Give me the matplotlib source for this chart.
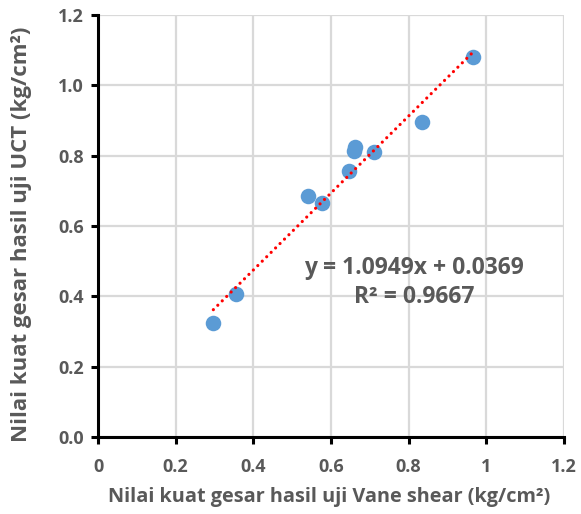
import matplotlib

matplotlib.use("Agg")
import matplotlib.pyplot as plt
import numpy as np

# data
vane = [0.297, 0.356, 0.540, 0.578, 0.647, 0.660, 0.662, 0.711, 0.834, 0.965]
uct = [0.323, 0.406, 0.684, 0.666, 0.757, 0.812, 0.826, 0.811, 0.897, 1.080]
slope, intercept = 1.0949, 0.0369
r2 = 0.9667

_INK = "#595959"
_DOT = "#5B9BD5"

plt.rcParams["font.family"] = ["Open Sans", "DejaVu Sans"]

fig = plt.figure(figsize=(5.81, 5.14), dpi=100)
ax = fig.add_axes([0.1687, 0.1498, 0.802, 0.821])

ax.scatter(vane, uct, s=125, color=_DOT, zorder=3, linewidths=0)
xt = np.array([min(vane), max(vane)])
ax.plot(xt, slope * xt + intercept, color="#FF0000", lw=2.3,
        linestyle=(0, (0.01, 1.95)), dash_capstyle="round", zorder=4)

ax.set_xlim(0, 1.2)
ax.set_ylim(0, 1.2)
ax.set_xticks(np.arange(0, 1.21, 0.2))
ax.set_xticklabels(["0", "0.2", "0.4", "0.6", "0.8", "1", "1.2"])
ax.set_yticks(np.arange(0, 1.21, 0.2))
ax.set_yticklabels([f"{v:.1f}" for v in np.arange(0, 1.21, 0.2)])
ax.grid(True, color="#D9D9D9", lw=1.6, zorder=0)
ax.set_axisbelow(True)
for s in ("top", "right"):
    ax.spines[s].set_visible(False)
for s in ("left", "bottom"):
    ax.spines[s].set_linewidth(2.2)
    ax.spines[s].set_color("black")
ax.tick_params(direction="out", length=5, width=2.2, color="black",
               labelsize=13, labelcolor=_INK)
ax.tick_params(axis="x", pad=10)
ax.tick_params(axis="y", pad=5)
for lbl in ax.get_xticklabels() + ax.get_yticklabels():
    lbl.set_fontweight("bold")

ax.set_xlabel("Nilai kuat gesar hasil uji Vane shear (kg/cm²)", fontsize=14.3,
              fontweight="bold", color=_INK, va="center")
ax.xaxis.set_label_coords(0.495, -0.142)
ax.set_ylabel("Nilai kuat gesar hasil uji UCT (kg/cm²)", fontsize=16,
              fontweight="bold", color=_INK, va="center")
ax.yaxis.set_label_coords(-0.165, 0.48)

ax.text(0.814, 0.48, f"y = {slope}x + {intercept}", ha="center", va="center",
        fontsize=16.5, fontweight="bold", color=_INK)
ax.text(0.814, 0.398, f"R² = {r2}", ha="center", va="center",
        fontsize=16.5, fontweight="bold", color=_INK)

fig.savefig("out.png")
